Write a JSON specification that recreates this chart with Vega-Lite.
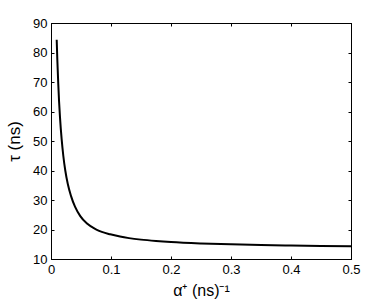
{
  "$schema": "https://vega.github.io/schema/vega-lite/v6.json",
  "autosize": "none",
  "padding": {"left": 51, "top": 23, "right": 37, "bottom": 46},
  "width": 300,
  "height": 236,
  "background": "white",
  "config": {
    "font": "Liberation Sans",
    "view": {"stroke": "black", "strokeWidth": 1},
    "axis": {
      "grid": false,
      "domainColor": "black",
      "tickColor": "black",
      "labelColor": "black",
      "titleColor": "black",
      "labelFont": "Liberation Sans",
      "titleFont": "Liberation Sans",
      "labelFontSize": 13,
      "titleFontSize": 16,
      "titleFontWeight": "normal",
      "tickSize": -3,
      "domainWidth": 1
    }
  },
  "data": {
    "values": [
      {"a": 0.0095, "tau": 84.3},
      {"a": 0.0105, "tau": 77.8},
      {"a": 0.0121, "tau": 69.4},
      {"a": 0.0135, "tau": 63.2},
      {"a": 0.015, "tau": 58},
      {"a": 0.0177, "tau": 50.7},
      {"a": 0.0205, "tau": 45},
      {"a": 0.0238, "tau": 40},
      {"a": 0.028, "tau": 35.4},
      {"a": 0.0333, "tau": 31.4},
      {"a": 0.04, "tau": 27.75},
      {"a": 0.0488, "tau": 24.55},
      {"a": 0.06, "tau": 22},
      {"a": 0.0765, "tau": 19.9},
      {"a": 0.0987, "tau": 18.36},
      {"a": 0.115, "tau": 17.6},
      {"a": 0.13, "tau": 17.08},
      {"a": 0.15, "tau": 16.57},
      {"a": 0.175, "tau": 16.11},
      {"a": 0.2, "tau": 15.75},
      {"a": 0.25, "tau": 15.28},
      {"a": 0.3, "tau": 14.97},
      {"a": 0.35, "tau": 14.74},
      {"a": 0.4, "tau": 14.58},
      {"a": 0.45, "tau": 14.44},
      {"a": 0.5, "tau": 14.34}
    ]
  },
  "resolve": {"axis": {"x": "independent", "y": "independent"}},
  "layer": [
    {
      "mark": {"type": "line", "color": "black", "strokeWidth": 2, "interpolate": "monotone"},
      "encoding": {
        "x": {
          "field": "a", "type": "quantitative",
          "scale": {"domain": [0, 0.5], "nice": false, "zero": false},
          "axis": {"values": [0, 0.1, 0.2, 0.3, 0.4, 0.5], "format": "~g", "labelPadding": 7, "title": "α⁺ (ns)⁻¹", "titlePadding": 6, "labelFlush": false}
        },
        "y": {
          "field": "tau", "type": "quantitative",
          "scale": {"domain": [10, 90], "nice": false, "zero": false},
          "axis": {"values": [10, 20, 30, 40, 50, 60, 70, 80, 90], "labelPadding": 7, "title": "τ (ns)", "titlePadding": 9, "titleFontSize": 17, "labelFlush": false}
        }
      }
    },
    {
      "mark": {"type": "line", "opacity": 0},
      "encoding": {
        "x": {
          "field": "a", "type": "quantitative",
          "scale": {"domain": [0, 0.5], "nice": false, "zero": false},
          "axis": {"orient": "top", "values": [0, 0.1, 0.2, 0.3, 0.4, 0.5], "labels": false, "title": null}
        },
        "y": {
          "field": "tau", "type": "quantitative",
          "scale": {"domain": [10, 90], "nice": false, "zero": false},
          "axis": {"orient": "right", "values": [10, 20, 30, 40, 50, 60, 70, 80, 90], "labels": false, "title": null}
        }
      }
    }
  ]
}
